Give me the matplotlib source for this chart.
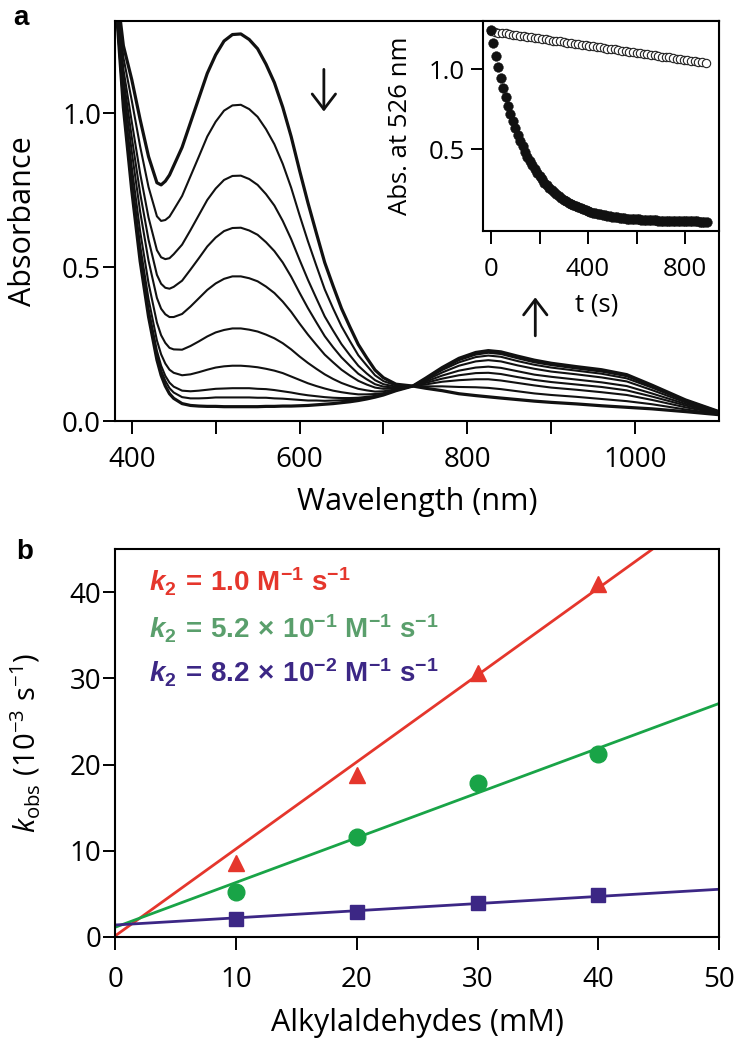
import numpy as np
import matplotlib
matplotlib.use('Agg')
import matplotlib.pyplot as plt

plt.rcParams['font.family'] = ['Open Sans', 'DejaVu Sans']
plt.rcParams['mathtext.fontset'] = 'custom'
plt.rcParams['mathtext.rm'] = 'Open Sans'
plt.rcParams['mathtext.it'] = 'Open Sans:italic'
plt.rcParams['mathtext.bf'] = 'Liberation Sans:bold'
plt.rcParams['mathtext.bfit'] = 'Liberation Sans:italic:bold'

# ---------------- data: panel a (UV-vis spectra) ----------------
wavelength = [380, 390, 400, 410, 420, 430, 435, 440, 445, 450, 460, 470, 480, 490, 500,
              510, 520, 530, 540, 550, 560, 570, 580, 590, 600, 610, 620, 630,
              640, 650, 660, 670, 680, 690, 700, 715, 735, 750, 770, 790, 810,
              825, 840, 860, 880, 900, 930, 960, 990, 1020, 1060, 1100]

spec_1 = [1.45, 1.22, 1.11, 0.98, 0.86, 0.775, 0.768, 0.78, 0.80, 0.83, 0.89, 0.97, 1.05, 1.13, 1.19,
          1.235, 1.256, 1.258, 1.24, 1.21, 1.16, 1.10, 1.02, 0.925, 0.815, 0.71, 0.612, 0.516,
          0.44, 0.367, 0.307, 0.25, 0.207, 0.167, 0.142, 0.121, 0.115, 0.108, 0.100, 0.090, 0.084,
          0.080, 0.076, 0.071, 0.066, 0.062, 0.057, 0.051, 0.046, 0.041, 0.032, 0.022]
spec_2 = [1.441, 1.182, 1.042, 0.893, 0.761, 0.666, 0.651, 0.654, 0.665, 0.687, 0.732, 0.796, 0.860, 0.925, 0.973,
          1.009, 1.026, 1.028, 1.014, 0.989, 0.949, 0.900, 0.836, 0.759, 0.670, 0.585, 0.506, 0.429,
          0.367, 0.309, 0.261, 0.215, 0.182, 0.150, 0.131, 0.117, 0.115, 0.114, 0.114, 0.112, 0.111,
          0.109, 0.105, 0.098, 0.091, 0.086, 0.080, 0.073, 0.066, 0.056, 0.039, 0.024]
spec_3 = [1.431, 1.144, 0.973, 0.805, 0.662, 0.556, 0.533, 0.527, 0.530, 0.543, 0.574, 0.621, 0.670, 0.719, 0.756,
          0.784, 0.797, 0.798, 0.787, 0.768, 0.738, 0.701, 0.651, 0.592, 0.525, 0.460, 0.400, 0.341,
          0.295, 0.251, 0.215, 0.181, 0.156, 0.134, 0.121, 0.113, 0.115, 0.120, 0.129, 0.134, 0.137,
          0.137, 0.133, 0.125, 0.117, 0.110, 0.103, 0.095, 0.086, 0.070, 0.046, 0.026]
spec_4 = [1.424, 1.116, 0.923, 0.741, 0.590, 0.476, 0.447, 0.434, 0.431, 0.437, 0.457, 0.493, 0.530, 0.568, 0.597,
          0.618, 0.628, 0.629, 0.620, 0.606, 0.582, 0.553, 0.516, 0.470, 0.418, 0.368, 0.322, 0.277,
          0.241, 0.208, 0.181, 0.155, 0.137, 0.121, 0.113, 0.110, 0.115, 0.125, 0.139, 0.150, 0.157,
          0.158, 0.154, 0.144, 0.135, 0.128, 0.120, 0.112, 0.101, 0.081, 0.052, 0.027]
spec_5 = [1.418, 1.090, 0.876, 0.681, 0.522, 0.401, 0.366, 0.348, 0.339, 0.339, 0.349, 0.373, 0.400, 0.427, 0.448,
          0.463, 0.471, 0.471, 0.465, 0.455, 0.438, 0.417, 0.389, 0.356, 0.318, 0.282, 0.249, 0.217,
          0.192, 0.168, 0.149, 0.132, 0.120, 0.110, 0.106, 0.107, 0.115, 0.129, 0.149, 0.165, 0.175,
          0.178, 0.174, 0.163, 0.152, 0.145, 0.136, 0.127, 0.115, 0.091, 0.057, 0.029]
spec_6 = [1.410, 1.062, 0.826, 0.617, 0.449, 0.321, 0.280, 0.255, 0.239, 0.234, 0.233, 0.245, 0.260, 0.276, 0.289,
          0.297, 0.302, 0.302, 0.298, 0.292, 0.282, 0.270, 0.254, 0.234, 0.211, 0.190, 0.171, 0.153,
          0.138, 0.125, 0.115, 0.106, 0.101, 0.097, 0.098, 0.104, 0.115, 0.133, 0.159, 0.181, 0.195,
          0.199, 0.195, 0.182, 0.171, 0.162, 0.153, 0.143, 0.130, 0.102, 0.062, 0.030]
spec_7 = [1.405, 1.042, 0.790, 0.571, 0.397, 0.263, 0.218, 0.188, 0.168, 0.158, 0.150, 0.153, 0.160, 0.168, 0.175,
          0.179, 0.181, 0.181, 0.179, 0.176, 0.171, 0.165, 0.157, 0.146, 0.135, 0.124, 0.115, 0.107,
          0.100, 0.095, 0.091, 0.088, 0.088, 0.089, 0.092, 0.102, 0.115, 0.136, 0.167, 0.192, 0.209,
          0.214, 0.210, 0.196, 0.184, 0.175, 0.165, 0.155, 0.140, 0.110, 0.066, 0.031]
spec_8 = [1.402, 1.030, 0.768, 0.543, 0.366, 0.229, 0.181, 0.148, 0.126, 0.113, 0.100, 0.098, 0.100, 0.103, 0.106,
          0.107, 0.108, 0.108, 0.108, 0.106, 0.105, 0.102, 0.098, 0.094, 0.089, 0.085, 0.082, 0.079,
          0.077, 0.076, 0.076, 0.077, 0.080, 0.083, 0.089, 0.101, 0.115, 0.138, 0.171, 0.199, 0.217,
          0.223, 0.219, 0.205, 0.192, 0.183, 0.172, 0.162, 0.147, 0.114, 0.068, 0.032]
spec_9 = [1.401, 1.025, 0.759, 0.531, 0.353, 0.214, 0.165, 0.132, 0.108, 0.094, 0.079, 0.075, 0.075, 0.076, 0.078,
          0.078, 0.078, 0.078, 0.078, 0.077, 0.077, 0.075, 0.074, 0.072, 0.070, 0.068, 0.068, 0.067,
          0.068, 0.069, 0.070, 0.073, 0.076, 0.081, 0.087, 0.101, 0.115, 0.139, 0.173, 0.202, 0.221,
          0.226, 0.222, 0.208, 0.196, 0.186, 0.175, 0.165, 0.149, 0.116, 0.069, 0.032]
spec_10 = [1.40, 1.02, 0.75, 0.52, 0.34, 0.20, 0.150, 0.115, 0.090, 0.075, 0.058, 0.052, 0.050, 0.049, 0.049,
           0.048, 0.048, 0.048, 0.048, 0.048, 0.049, 0.049, 0.050, 0.050, 0.051, 0.052, 0.054, 0.056,
           0.058, 0.061, 0.064, 0.068, 0.073, 0.079, 0.086, 0.100, 0.115, 0.140, 0.175, 0.205, 0.224,
           0.230, 0.226, 0.212, 0.199, 0.189, 0.178, 0.168, 0.152, 0.118, 0.070, 0.032]

# ---------------- data: inset (kinetic traces at 526 nm) ----------------
time_fast = list(range(0, 900, 10))
abs_fast = [1.245, 1.162, 1.084, 1.012, 0.945, 0.882, 0.824, 0.770, 0.720, 0.673,
            0.629, 0.588, 0.551, 0.516, 0.483, 0.453, 0.424, 0.398, 0.373, 0.351,
            0.329, 0.310, 0.291, 0.274, 0.258, 0.243, 0.230, 0.217, 0.205, 0.194,
            0.183, 0.174, 0.165, 0.156, 0.149, 0.142, 0.135, 0.129, 0.123, 0.117,
            0.112, 0.108, 0.103, 0.099, 0.096, 0.092, 0.089, 0.086, 0.083, 0.080,
            0.078, 0.075, 0.073, 0.071, 0.070, 0.068, 0.066, 0.065, 0.063, 0.062,
            0.061, 0.060, 0.059, 0.058, 0.057, 0.056, 0.055, 0.055, 0.054, 0.053,
            0.053, 0.052, 0.052, 0.051, 0.051, 0.050, 0.050, 0.050, 0.049, 0.049,
            0.049, 0.048, 0.048, 0.048, 0.048, 0.048, 0.047, 0.047, 0.047, 0.047]
time_slow = list(range(0, 900, 15))
abs_slow = [1.235, 1.232, 1.228, 1.225, 1.222, 1.218, 1.215, 1.212, 1.208, 1.205,
            1.202, 1.198, 1.195, 1.192, 1.188, 1.185, 1.182, 1.178, 1.175, 1.172,
            1.168, 1.165, 1.162, 1.158, 1.155, 1.152, 1.148, 1.145, 1.142, 1.138,
            1.135, 1.132, 1.128, 1.125, 1.122, 1.118, 1.115, 1.112, 1.108, 1.105,
            1.102, 1.098, 1.095, 1.092, 1.088, 1.085, 1.082, 1.078, 1.075, 1.072,
            1.068, 1.065, 1.062, 1.058, 1.055, 1.052, 1.048, 1.045, 1.042, 1.038]

# ---------------- data: panel b (kobs vs concentration) ----------------
conc_mM = [10, 20, 30, 40]
kobs_red = [8.6, 18.8, 30.6, 41.0]
kobs_green = [5.2, 11.6, 17.8, 21.2]
kobs_purple = [2.0, 2.9, 3.9, 4.85]
fit_slopes = [1.01, 0.52, 0.083]
fit_intercepts = [0.1, 1.1, 1.36]
fit_range = [0, 50]
k2_labels = [r'$\mathbfit{k}_{\mathbf{2}}\mathbf{\,=\,1.0\ M^{-1}\ s^{-1}}$',
             r'$\mathbfit{k}_{\mathbf{2}}\mathbf{\,=\,5.2\,\times\,10^{-1}\ M^{-1}\ s^{-1}}$',
             r'$\mathbfit{k}_{\mathbf{2}}\mathbf{\,=\,8.2\,\times\,10^{-2}\ M^{-1}\ s^{-1}}$']

RED = '#e5362c'
GREEN = '#19a447'
GREEN_TXT = '#5a9f6c'
PURPLE = '#3c2785'
INK = '#111111'

fig = plt.figure(figsize=(7.37, 10.5), dpi=100)

# ================= panel a =================
ax1 = fig.add_axes([0.156, 0.5986, 0.8196, 0.3814])
spectra = [spec_1, spec_2, spec_3, spec_4, spec_5, spec_6, spec_7, spec_8, spec_9, spec_10]
for i, s in enumerate(spectra):
    lw = 2.3 if i in (0, len(spectra) - 1) else 1.5
    ax1.plot(wavelength, s, color=INK, lw=lw, solid_joinstyle='round')
ax1.set_xlim(380, 1100)
ax1.set_ylim(0, 1.30)
ax1.set_xticks([400, 600, 800, 1000])
ax1.set_xticks([500, 700, 900], minor=True)
ax1.set_yticks([0.0, 0.5, 1.0])
ax1.set_yticklabels(['0.0', '0.5', '1.0'])
ax1.tick_params(which='both', direction='out', length=9, width=1.4, labelsize=20,
                top=False, right=False)
ax1.tick_params(axis='x', which='both', pad=9)
ax1.tick_params(axis='y', pad=1)
for sp in ax1.spines.values():
    sp.set_linewidth(1.5)
ax1.set_xlabel('Wavelength (nm)', fontsize=22, va='center')
ax1.xaxis.set_label_coords(0.5, -0.200)
ax1.set_ylabel('Absorbance', fontsize=22, va='center')
ax1.yaxis.set_label_coords(-0.152, 0.5)

arrow_style = dict(arrowstyle='->,head_length=0.55,head_width=0.42', lw=2.0, color=INK,
                   shrinkA=0, shrinkB=0, mutation_scale=20)
ax1.annotate('', xy=(629, 1.006), xytext=(629, 1.143), arrowprops=arrow_style)
ax1.annotate('', xy=(881, 0.403), xytext=(881, 0.278), arrowprops=arrow_style)

# ---- inset ----
axin = fig.add_axes([0.655, 0.7803, 0.3206, 0.1997])
axin.plot(time_slow, abs_slow, ls='none', marker='o', ms=6.0, mfc='white', mec='#222222', mew=0.8)
axin.plot(time_fast, abs_fast, ls='none', marker='o', ms=7.0, mfc=INK, mec=INK, mew=0.3)
axin.set_xlim(-34, 940)
axin.set_ylim(-0.01, 1.30)
axin.set_xticks([0, 400, 800])
axin.set_xticks([200, 600], minor=True)
axin.set_yticks([0.5, 1.0])
axin.set_yticklabels(['0.5', '1.0'])
axin.tick_params(which='both', direction='out', length=9, width=1.4, labelsize=18.5)
axin.tick_params(axis='x', which='both', pad=10)
axin.tick_params(axis='y', pad=4)
for sp in axin.spines.values():
    sp.set_linewidth(1.5)
axin.set_xlabel('t (s)', fontsize=18.5, va='center')
axin.xaxis.set_label_coords(0.484, -0.354)
axin.set_ylabel('Abs. at 526 nm', fontsize=18.5, va='center')
axin.yaxis.set_label_coords(-0.35, 0.5)

# ================= panel b =================
ax2 = fig.add_axes([0.1563, 0.1079, 0.8197, 0.369])
colors = [RED, GREEN, PURPLE]
for slope, icpt, col in zip(fit_slopes, fit_intercepts, colors):
    ys = [slope * x + icpt for x in fit_range]
    ax2.plot(fit_range, ys, color=col, lw=2.0, zorder=2)
ax2.plot(conc_mM, kobs_red, ls='none', marker='^', ms=12, color=RED, zorder=3)
ax2.plot(conc_mM, kobs_green, ls='none', marker='o', ms=12, color=GREEN, zorder=3)
ax2.plot(conc_mM, kobs_purple, ls='none', marker='s', ms=10, color=PURPLE, zorder=3)
ax2.set_xlim(0, 50)
ax2.set_ylim(0, 45)
ax2.set_xticks([0, 10, 20, 30, 40, 50])
ax2.set_yticks([0, 10, 20, 30, 40])
ax2.tick_params(which='both', direction='out', length=9, width=1.4, labelsize=20)
ax2.tick_params(axis='x', pad=12)
ax2.tick_params(axis='y', pad=1)
for sp in ax2.spines.values():
    sp.set_linewidth(1.5)
ax2.set_xlabel('Alkylaldehydes (mM)', fontsize=22, va='center')
ax2.xaxis.set_label_coords(0.5, -0.223)
ax2.set_ylabel(r'$\mathit{k}_{\mathrm{obs}}\ \mathrm{(10^{-3}\ s^{-1})}$', fontsize=21, va='center')
ax2.yaxis.set_label_coords(-0.148, 0.5)

txt_colors = [RED, GREEN_TXT, PURPLE]
txt_y = [41.1, 35.7, 30.6]
for lab, col, yy in zip(k2_labels, txt_colors, txt_y):
    ax2.text(2.8, yy, lab, color=col, fontsize=20, va='center', ha='left')

fig.text(0.0285, 0.983, 'a', fontsize=20, fontweight='bold', family='Liberation Sans',
         ha='center', va='center')
fig.text(0.033, 0.474, 'b', fontsize=20, fontweight='bold', family='Liberation Sans',
         ha='center', va='center')

fig.savefig('out.png', dpi=100)
